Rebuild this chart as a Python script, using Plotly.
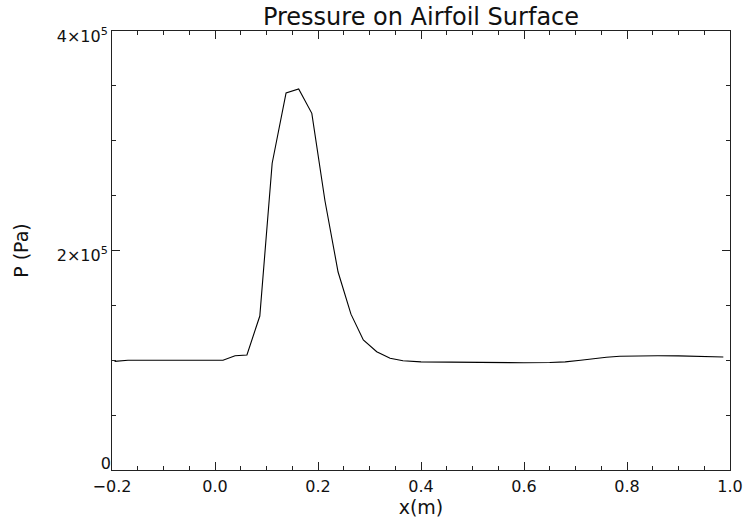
import plotly.graph_objects as go

# Data
x_m = [-0.195, -0.169, -0.12, -0.06, 0.0155, 0.039, 0.062, 0.087, 0.111, 0.138, 0.1625,
       0.188, 0.2136, 0.239, 0.264, 0.288, 0.314, 0.34, 0.365, 0.40, 0.45, 0.50,
       0.55, 0.60, 0.65, 0.68, 0.71, 0.735, 0.76, 0.786, 0.82, 0.86, 0.90, 0.94, 0.987]
p_pa = [0.99e5, 1.0e5, 1.0e5, 1.0e5, 1.0e5, 1.041e5, 1.048e5, 1.403e5, 2.795e5, 3.435e5, 3.472e5,
        3.25e5, 2.451e5, 1.804e5, 1.42e5, 1.185e5, 1.078e5, 1.018e5, 0.995e5, 0.985e5, 0.982e5, 0.981e5,
        0.98e5, 0.977e5, 0.979e5, 0.985e5, 1.0e5, 1.015e5, 1.028e5, 1.036e5, 1.04e5, 1.041e5, 1.04e5, 1.037e5, 1.03e5]

x_tickvals = [-0.2, 0.0, 0.2, 0.4, 0.6, 0.8, 1.0]
x_ticktext = ["\u22120.2", "0.0", "0.2", "0.4", "0.6", "0.8", "1.0"]
y_tickvals = [2e5, 4e5]
y_ticktext = ["2\u00d710<sup>5</sup>", "4\u00d710<sup>5</sup>"]
y_zero_val = [0]
y_zero_text = ["0"]

FONT = "DejaVu Sans"
AX = "#222222"
Y_RANGE = [0, 4e5]

fig = go.Figure()
fig.add_trace(go.Scatter(x=x_m, y=p_pa, mode="lines",
                         line=dict(color="black", width=1.1), showlegend=False,
                         hoverinfo="skip"))
# empty trace so that the overlay axis carrying the "0" label is drawn
fig.add_trace(go.Scatter(x=[], y=[], yaxis="y2", mode="lines", showlegend=False,
                         hoverinfo="skip"))

common = dict(showline=True, linecolor=AX, linewidth=1, mirror="ticks",
              ticks="inside", ticklen=8, tickcolor=AX, tickwidth=1,
              showgrid=False, zeroline=False, automargin=False,
              ticklabeloverflow="allow",
              tickfont=dict(family=FONT, size=16, color="#111"))

fig.update_layout(
    width=745, height=525,
    margin=dict(l=112, r=15, t=31, b=55),
    paper_bgcolor="white", plot_bgcolor="white",
    font=dict(family=FONT, color="#111"),
    title=dict(text="Pressure on Airfoil Surface", xref="paper", x=0.5, xanchor="center",
               y=1 - 17 / 525, yanchor="middle",
               font=dict(family=FONT, size=24, color="#111")),
    xaxis=dict(range=[-0.2, 1.0], tickvals=x_tickvals, ticktext=x_ticktext,
               ticklabelstandoff=2,
               title=dict(text="x(m)", font=dict(family=FONT, size=19), standoff=0),
               minor=dict(ticks="inside", ticklen=4, dtick=0.05, tickcolor=AX, showgrid=False),
               **common),
    yaxis=dict(range=Y_RANGE, tickvals=y_tickvals, ticktext=y_ticktext,
               ticklabelshift=5,
               title=dict(text="P (Pa)", font=dict(family=FONT, size=19), standoff=23),
               minor=dict(ticks="inside", ticklen=4, dtick=5e4, tickcolor=AX, showgrid=False),
               **common),
    yaxis2=dict(range=Y_RANGE, overlaying="y", side="left", tickvals=y_zero_val,
                ticktext=y_zero_text, ticklabelshift=-7, showline=False, ticks="",
                showgrid=False, zeroline=False, automargin=False,
                ticklabeloverflow="allow",
                tickfont=dict(family=FONT, size=16, color="#111")),
)

fig.write_html("out.html", config={"displayModeBar": False},
               post_script="document.body.style.margin='0';")
